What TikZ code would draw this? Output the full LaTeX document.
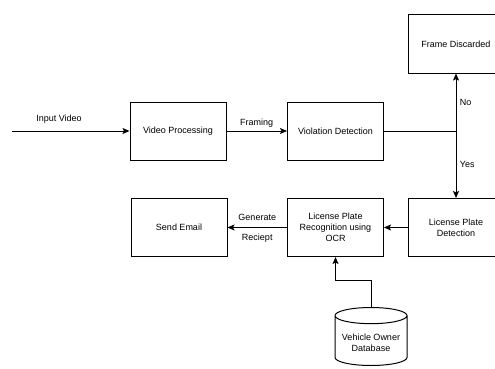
\documentclass[tikz,border=0pt]{standalone}
\usepackage{fontspec}
\setmainfont{Liberation Sans}
\usetikzlibrary{arrows.meta,shapes.geometric}

\tikzset{
    box/.style={draw, line width=1pt, minimum width=96pt, minimum height=58pt,
        align=center, font=\fontsize{9}{11}\selectfont},
    arr/.style={line width=1pt, -{Stealth[length=7pt,width=6pt,inset=1.5pt]}},
    lbl/.style={font=\fontsize{9}{11}\selectfont},
    dbase/.style={draw, line width=1pt, shape=cylinder, shape border rotate=90,
        aspect=0.25, minimum width=72pt, minimum height=58pt, align=center,
        font=\fontsize{9}{11}\selectfont}
}

\begin{document}
\begin{tikzpicture}[x=1pt,y=-1pt]
\useasboundingbox (0,0) rectangle (495,369);

% top row
\coordinate (in) at (12,131);
\node[box] (vp) at (178,131) {Video Processing};
\node[box] (vd) at (335.5,131) {Violation Detection};
\node[box] (fd) at (456,44) {Frame Discarded};
\coordinate (split) at (456,131);

% bottom row
\node[box] (se) at (179,227.5) {Send Email};
\node[box] (lpr) at (335.5,227.5) {License Plate\\Recognition using\\OCR};
\node[box] (lpd) at (456,227.5) {License Plate\\Detection};

% database
\node[dbase, anchor=north] (db) at (371,307) {Vehicle Owner\\Database};

% connectors
\draw[arr] (in) -- node[lbl, pos=0.4, above=4pt] {Input Video} (vp);
\draw[arr] (vp) -- node[lbl, above] {Framing} (vd);
\draw[line width=1pt] (vd) -- (split);
\draw[arr] (split) -- node[lbl, right] {No} (fd);
\draw[arr] (split) -- node[lbl, right] {Yes} (lpd);
\draw[arr] (lpd) -- (lpr);
\draw[arr] (lpr) -- node[lbl, above=3pt] {Generate} node[lbl, below=3pt] {Reciept} (se);
\draw[arr] (db.north) -- ++(0,-27) -| (lpr.south);

\end{tikzpicture}
\end{document}
